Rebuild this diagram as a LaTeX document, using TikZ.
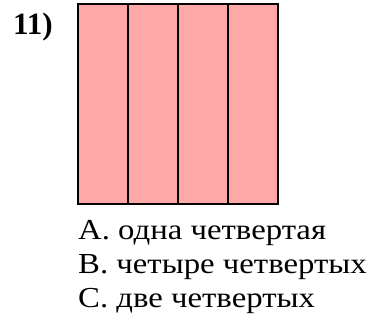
\documentclass[tikz,border=0pt]{standalone}
\usepackage{fontspec}
\setmainfont{Liberation Serif}
\newfontfamily\answerfont[FakeStretch=1.13]{Liberation Serif}
\usepackage{xcolor}
\usetikzlibrary{positioning}
\definecolor{stripfill}{RGB}{255,168,168}

\begin{document}
\begin{tikzpicture}[x=1pt,y=-1pt,
		strip/.style={fill=stripfill,draw=black,line width=2pt},
		answer/.style={anchor=base west,inner sep=0pt,font=\answerfont\fontsize{29}{34}\selectfont}]
		\useasboundingbox (0,0) rectangle (375,325);
		\node[anchor=base west,inner sep=0pt,font=\fontsize{31}{36}\selectfont\bfseries] (num) at (13,34) {11)};
		\foreach \i in {0,...,3}{
			\draw[strip] (78+50*\i,4) rectangle (128+50*\i,204);
		}
		\node[answer] (a) at (78,239) {А. одна четвертая};
		\node[answer] (b) at (78,273) {В. четыре четвертых};
		\node[answer] (c) at (78,307) {С. две четвертых};
	\end{tikzpicture}
\end{document}
